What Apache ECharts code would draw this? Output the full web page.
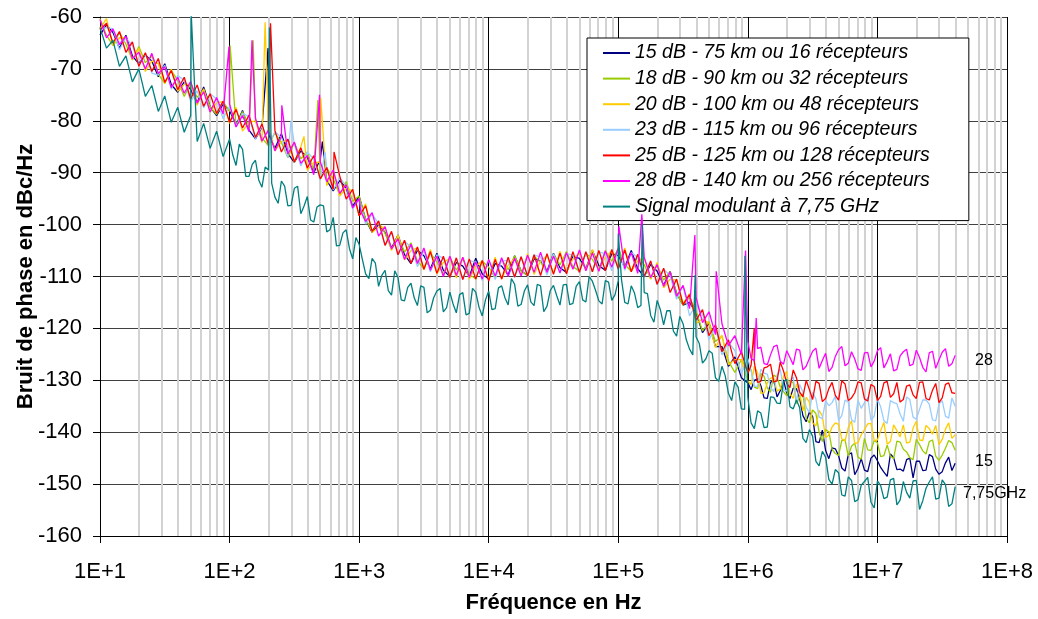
<!DOCTYPE html>
<html><head><meta charset="utf-8">
<script src="https://cdn.jsdelivr.net/npm/echarts@6/dist/echarts.min.js"></script>
<style>html,body{margin:0;padding:0;background:#fff}#c{width:1038px;height:619px}</style>
</head><body><div id="c"></div>
<script>
// Frequency grid (Hz), 20 points per decade
const freqs = [
1e1,1.122e1,1.259e1,1.413e1,1.585e1,1.778e1,1.995e1,2.239e1,2.512e1,2.818e1,3.162e1,3.548e1,3.981e1,4.467e1,5.012e1,5.623e1,6.31e1,7.079e1,7.943e1,8.913e1,
1e2,1.122e2,1.259e2,1.413e2,1.585e2,1.778e2,1.995e2,2.239e2,2.512e2,2.818e2,3.162e2,3.548e2,3.981e2,4.467e2,5.012e2,5.623e2,6.31e2,7.079e2,7.943e2,8.913e2,
1e3,1.122e3,1.259e3,1.413e3,1.585e3,1.778e3,1.995e3,2.239e3,2.512e3,2.818e3,3.162e3,3.548e3,3.981e3,4.467e3,5.012e3,5.623e3,6.31e3,7.079e3,7.943e3,8.913e3,
1e4,1.122e4,1.259e4,1.413e4,1.585e4,1.778e4,1.995e4,2.239e4,2.512e4,2.818e4,3.162e4,3.548e4,3.981e4,4.467e4,5.012e4,5.623e4,6.31e4,7.079e4,7.943e4,8.913e4,
1e5,1.122e5,1.259e5,1.413e5,1.585e5,1.778e5,1.995e5,2.239e5,2.512e5,2.818e5,3.162e5,3.548e5,3.981e5,4.467e5,5.012e5,5.623e5,6.31e5,7.079e5,7.943e5,8.913e5,
1e6,1.122e6,1.259e6,1.413e6,1.585e6,1.778e6,1.995e6,2.239e6,2.512e6,2.818e6,3.162e6,3.548e6,3.981e6,4.467e6,5.012e6,5.623e6,6.31e6,7.079e6,7.943e6,8.913e6,
1e7,1.122e7,1.259e7,1.413e7,1.585e7,1.778e7,1.995e7,2.239e7,2.512e7,2.818e7,3.162e7,3.548e7,3.981e7
];
// In-between frequencies (Hz) used for extra samples
const midFreqsTeal = [
1.059e2,1.189e2,1.334e2,1.496e2,1.679e2,1.884e2,2.113e2,2.371e2,2.661e2,2.985e2,3.35e2,3.758e2,4.217e2,4.732e2,5.309e2,5.957e2,6.683e2,7.499e2,8.414e2,9.441e2,
1.059e3,1.189e3,1.334e3,1.496e3,1.679e3,1.884e3,2.113e3,2.371e3,2.661e3,2.985e3,3.35e3,3.758e3,4.217e3,4.732e3,5.309e3,5.957e3,6.683e3,7.499e3,8.414e3,9.441e3,
1.059e4,1.189e4,1.334e4,1.496e4,1.679e4,1.884e4,2.113e4,2.371e4,2.661e4,2.985e4,3.35e4,3.758e4,4.217e4,4.732e4,5.309e4,5.957e4,6.683e4,7.499e4,8.414e4,9.441e4,
1.059e5,1.189e5,1.334e5,1.496e5,1.679e5,1.884e5,2.113e5,2.371e5,2.661e5,2.985e5,3.35e5,3.758e5,4.217e5,4.732e5,5.309e5,5.957e5,6.683e5,7.499e5,8.414e5,9.441e5
];
const midFreqsTail = [
1.059e6,1.189e6,1.334e6,1.496e6,1.679e6,1.884e6,2.113e6,2.371e6,2.661e6,2.985e6,3.35e6,3.758e6,4.217e6,4.732e6,5.309e6,5.957e6,6.683e6,7.499e6,8.414e6,9.441e6,
1.059e7,1.189e7,1.334e7,1.496e7,1.679e7,1.884e7,2.113e7,2.371e7,2.661e7,2.985e7,3.35e7,3.758e7
];

const names = [
'15 dB - 75 km ou 16 récepteurs',
'18 dB - 90 km ou 32 récepteurs',
'20 dB - 100 km ou 48 récepteurs',
'23 dB - 115 km ou 96 récepteurs',
'25 dB - 125 km ou 128 récepteurs',
'28 dB - 140 km ou 256 récepteurs',
'Signal modulant à 7,75 GHz'
];
const colors = ['#000080','#99CC00','#FFCC00','#99CCFF','#FF0000','#FF00FF','#008080'];

const s15 = [
-63.5,-61.5,-63,-66,-63.5,-67.5,-69,-67.3,-68.5,-71.5,-69,-73,-74.5,-72.5,-74,-76.5,-73.5,-77.3,-79,-76.8,
-78,-80.8,-78,-81.8,-83.5,-81.3,-82.5,-85.3,-82.5,-86.3,-88,-85.8,-87,-90,-87.5,-91.5,-93.5,-91.5,-93,-96.5,
-94.5,-99,-101.5,-100,-101.5,-104.5,-102,-105.8,-107.5,-105,-106,-108.5,-105.5,-108.8,-110,-107.3,-108,-110,-106.5,-109.5,
-110.5,-107.5,-108,-109.7,-106,-108.9,-109.8,-106.6,-107,-109,-105.5,-108.3,-109.2,-106.1,-106.5,-108.5,-105,-107.9,-108.8,-105.6,
-106,-108.2,-105,-108.5,-110,-107.7,-109,-111.7,-109,-113.2,-115.5,-115,-117,-120.8,-119,-123.5,-123.5,-127.3,-125.5,-129.5,
-130.5,-130,-131,-133.5,-130,-132,-132.5,-131.5,-133.5,-138,-137,-142,-143.5,-143,-144.5,-147.5,-144,-147,-147.3,-145,
-145.5,-147.7,-144.2,-147.2,-147.5,-145,-145.6,-147.4,-144.3,-147.1,-147.6,-144.8,-146
];
const s18 = [
-60.3,-63.5,-65.5,-63,-65.2,-68.3,-65.7,-68.8,-67.5,-71,-72.8,-70.3,-72.2,-75.3,-72.7,-75.5,-74,-77.3,-78.8,-76.3,
-78.2,-81.1,-78.2,-81.3,-80,-83.3,-84.8,-82.3,-84.2,-87.1,-84.2,-87.3,-86,-89.5,-91.3,-89,-91.2,-94.3,-91.7,-95.5,
-94.5,-99,-101.3,-99.5,-101.7,-104.8,-102.2,-105.3,-103.5,-107,-108.5,-105.5,-107.2,-109.6,-106.2,-108.8,-106.5,-109.5,-110.5,-107,
-108.2,-110.3,-106.7,-108.7,-106,-108.9,-109.8,-106.1,-107.2,-109.3,-105.7,-107.8,-105.2,-108.1,-109,-105.5,-106.7,-108.7,-105,-107.1,
-104.5,-107.7,-109,-106,-107.7,-110.5,-107.7,-110.7,-109,-113.2,-115.5,-114,-116.7,-120.5,-118.7,-122.5,-121.5,-126.3,-128.5,-126,
-128.2,-131.3,-128.7,-131.5,-129,-131.3,-133,-130.5,-133.2,-137.3,-135.7,-140,-139.5,-143.3,-144.5,-141.5,-142.7,-144.8,-141.2,-143.5,
-142,-144.5,-144.6,-141.7,-143.3,-144.9,-141.4,-143.6,-141.8,-144.6,-144.4,-141.6,-143.5
];
const s20 = [
-62.3,-60.3,-65.5,-64,-64,-68.2,-66,-70.5,-68.5,-69,-72.8,-70,-74.3,-73,-73,-77,-73.8,-78.3,-76.5,-76.3,
-80.5,-77.4,-82,-80.3,-80,-84.2,-81,-85.8,-84,-83.8,-88,-85,-89.5,-88,-88,-92.5,-89.5,-94.5,-93,-93.5,
-98.3,-96,-101.5,-100.5,-100.5,-105,-102,-106.8,-105,-104.5,-108.7,-104.8,-109.5,-107.3,-106.5,-110.3,-106.3,-110.5,-108,-107,
-110.5,-106.3,-110.5,-107.8,-106.5,-109.8,-105.6,-109.6,-107,-106,-109.3,-105.1,-109.2,-106.6,-105.5,-108.8,-104.8,-108.9,-106.3,-105.1,
-108.3,-104.5,-109,-107,-106.5,-110.5,-107.3,-112.2,-110.5,-110.7,-115.2,-113.3,-119,-118.2,-119,-123.7,-121.3,-127,-126,-126,
-130.2,-127.3,-132.5,-130.5,-129.5,-131.7,-128.3,-133.5,-132.5,-133.3,-138.2,-135.8,-141,-139,-138.5,-141.7,-137.8,-142,-139.5,-138.3,
-141.5,-138.1,-141.8,-139.7,-138.6,-141.9,-137.9,-141.6,-139.3,-138.7,-141.4,-138.2,-140.5
];
const s23 = [
-62.5,-62,-62.3,-66.3,-64,-65.5,-69.3,-67,-70.8,-71.2,-69.3,-73.9,-71.3,-72.2,-76.3,-74.2,-77.5,-74.8,-75.8,-79.6,
-77.2,-81.1,-78.6,-79.2,-83.5,-81,-84.7,-82.1,-83.2,-87.1,-84.6,-88.7,-86,-87.4,-91.4,-89.1,-93.3,-91,-92.5,-97,
-95.2,-99.9,-98,-99.8,-104,-101.6,-105.8,-103.2,-104.3,-108.1,-105,-109.1,-105.8,-106.5,-110.3,-106.5,-110.6,-106.9,-107.3,-110.8,
-106.8,-110.6,-106.9,-107,-110.2,-106.2,-109.9,-105.9,-106.2,-109.7,-105.6,-109.4,-105.6,-105.9,-109.3,-105.3,-109.1,-105.3,-105.6,-108.9,
-104.8,-108.8,-105.4,-106.3,-110.2,-107,-111.6,-108.6,-109.8,-114.4,-111.8,-117.6,-115.4,-117.3,-122.2,-119.8,-125.1,-122.7,-124.3,-128.7,
-125.8,-131.1,-127.9,-128.8,-132.2,-127.8,-132.1,-129.4,-130.8,-135.2,-132.3,-137.1,-133.9,-134.3,-137.7,-133.8,-137.6,-133.9,-134.3,-137.7,
-133.6,-137.8,-133.9,-134.5,-137.9,-133.7,-137.5,-133.8,-134.6,-137.8,-133.9,-137.3,-135
];
const s25 = [
-62.5,-61.2,-65,-62.8,-66.8,-64.8,-69.5,-66.9,-70.5,-68,-72.6,-70.3,-74,-71.6,-75.8,-73.1,-77.2,-74.8,-78.6,-76.2,
-80.3,-77.8,-81.4,-78.9,-83.2,-80.6,-84.6,-81.9,-86,-83.5,-87.9,-85.2,-89.1,-86.7,-91.2,-89,-93.2,-90.6,-95.1,-93.2,
-98.3,-96.4,-101.3,-99.3,-104,-101.3,-105.8,-103,-107.5,-104.3,-108.6,-105.2,-109.4,-106.1,-110.2,-106.4,-110.6,-106.6,-110.5,-106.9,
-110.9,-106.7,-110.5,-106.3,-110.1,-106.2,-109.9,-105.8,-109.8,-105.6,-109.6,-105.5,-109.5,-105.2,-109.2,-105.2,-109.1,-105,-108.9,-104.8,
-108.6,-104.9,-109.1,-105.7,-110,-107,-111.5,-108.4,-113.1,-110.5,-115.4,-113.5,-118.4,-116.4,-121.4,-119.3,-124.5,-122.2,-126.8,-124.5,
-128.7,-126.5,-130.2,-127.4,-130.3,-126.5,-130.6,-128,-132.3,-130,-133.7,-130.6,-133.5,-130.4,-133.8,-130.7,-133.4,-130.3,-133.6,-130.8,
-133.9,-130.5,-133.3,-130.4,-133.7,-130.9,-133.5,-130.3,-133.8,-130.6,-133.4,-130.5,-132.5
];
const s28 = [
-60.5,-64,-62.3,-65.3,-63.7,-68,-66.8,-70,-67,-70.9,-69.6,-73.6,-71.6,-74.7,-72.4,-76.6,-74.4,-78.3,-75.5,-78.7,
-76.8,-81.2,-79,-82.1,-79.5,-83.9,-81.8,-85.8,-83,-86.4,-84.1,-88.2,-86.7,-90.4,-87.9,-91.7,-89.5,-94,-92.3,-96.8,
-95,-99.4,-97.7,-102.2,-100.4,-104.7,-102.7,-106.7,-103.8,-107.5,-104.5,-108.8,-106.1,-110,-106.1,-109.8,-106.3,-110.2,-107.2,-110.5,
-106.7,-109.9,-106.4,-110,-106.5,-109.9,-105.9,-109.2,-105.3,-109.2,-106.1,-109.3,-105.4,-108.6,-104.9,-108.9,-105.5,-109,-105.1,-108.2,
-104.5,-108.5,-105.4,-109.4,-106.3,-110.2,-107.7,-111.9,-109.1,-113.8,-111.7,-116.2,-114,-118.9,-116.8,-121.2,-119.1,-123.3,-121.4,-125,
-122.5,-126.2,-123.6,-127,-123.5,-126.3,-124.3,-127,-124.2,-127.3,-124.4,-127.7,-124.8,-127.5,-124.1,-127.2,-124.5,-127.8,-124.7,-127.4,
-124.3,-127.6,-124.9,-127.9,-124.5,-127.2,-124.2,-127.5,-124.7,-127.7,-124.6,-127.3,-125.2
];
const sMod = [
-62,-66,-64.5,-69.5,-67.5,-72.5,-70,-75.3,-73.2,-78.2,-75.2,-80.3,-77.4,-82.2,-79,-84,-80.5,-85.3,-82,-86.9,
-83.5,-88.6,-85.5,-90.7,-87.6,-92.8,-89.5,-94.7,-91.6,-96.4,-93,-97.9,-94.6,-99.5,-96.2,-101.4,-98.6,-104,-101,-106.6,
-103.8,-109.5,-106.5,-111.9,-108.8,-113.6,-110.2,-114.7,-111.3,-115.6,-112.1,-116.5,-112.8,-116.8,-113,-117,-113.1,-117.1,-113,-117.6,
-112.8,-116.2,-111.8,-115.5,-111.5,-115.4,-111.6,-115.6,-111.8,-115.7,-111.7,-115.5,-111.5,-115.2,-111,-114.9,-110.9,-114.7,-110.8,-114.6,
-110.8,-115,-111.8,-116,-113.1,-117.5,-114.6,-119.3,-116.6,-121.5,-119.1,-124,-121.6,-126.7,-124.3,-129.5,-127.3,-132.5,-130.3,-135.5,
-133.3,-139.3,-136.3,-139,-133.3,-134.5,-129.8,-135.5,-135.3,-142,-140.8,-146.5,-144.8,-150,-147.8,-152.3,-149.3,-153,-149.5,-153.5,
-149.4,-152.8,-149.2,-154,-149.5,-152.7,-149.3,-153.2,-149.6,-152.9,-149.2,-154.3,-150.5
];

// Extra in-between samples (teal, 100 Hz - 1 MHz)
const sModMid = [
-86.6,-84.5,-90.7,-88.4,-91.4,-88.9,-92,-95.9,-92.6,-96.3,-92.6,-96.4,-99.1,-96.6,-96.4,-101,-104.1,-101.6,-104.6,-102.5,
-106.7,-110.4,-107.4,-109.8,-112.7,-108.9,-114.5,-112.1,-114.1,-111.8,-117,-114.1,-112.3,-116,-115.3,-113.5,-117.4,-112.3,-115.9,-114.5,
-116.4,-112.2,-114.1,-110.4,-115.7,-112.8,-114.9,-111.5,-116.8,-112.7,-113.7,-111.6,-115.4,-111.9,-114.5,-110,-112.7,-115.3,-111.1,-113.5,
-110.6,-115.3,-113.2,-115.6,-113.3,-118.8,-116.4,-116.6,-120.5,-117.7,-122.2,-125.1,-122.9,-125.9,-124.8,-130.2,-129.1,-133.9,-131.3,-135.6
];
// Extra in-between samples (1 MHz - 40 MHz)
const s15Tail = [-131.8,-129.7,-133.4,-130.4,-133.2,-129.9,-133.5,-131.6,-136.8,-136.1,-141.8,-139.6,-145.1,-143.2,-146.9,-144.3,-148.2,-145.1,-147.6,-144.4,-146.8,-148.5,-144.9,-147.1,-145.3,-148.8,-145.6,-147.3,-144.7,-148.1,-145.9,-147.4];
const s18Tail = [-127.9,-131.6,-129.2,-132.3,-129.4,-132.2,-130.1,-134.5,-132.6,-138.2,-136.4,-141.8,-139.9,-144.1,-141.6,-144.6,-142.1,-145.2,-143.4,-141.6,-144.7,-142.5,-145.1,-141.9,-143.8,-145.3,-142.4,-144.2,-141.5,-145.4,-143.1,-142];
const s20Tail = [-130.8,-128.5,-132.4,-129.6,-132.1,-129.2,-132.6,-130.7,-135.9,-134.2,-138.8,-136.9,-140.6,-138.2,-141.3,-139.1,-142.2,-140.5,-138.4,-141.6,-139.7,-142.3,-138.6,-140.9,-142.1,-139.2,-141.5,-138.7,-140.4,-142.4,-139.4,-141.2];
const s23Tail = [-128.2,-131.2,-128.6,-131.4,-129,-131.8,-130.2,-134.1,-132.3,-136.2,-133.6,-137.4,-134.9,-133.1,-136.8,-134.2,-138.1,-135.4,-133.3,-136.9,-135.1,-138.3,-134.3,-136.5,-133.2,-137.1,-135.6,-133.8,-137.6,-134.6,-136.9,-133.4];
const s25Tail = [-127.1,-130.4,-127.6,-126.9,-130.1,-128.2,-131.4,-129.5,-133.2,-131.8,-130.2,-134.1,-131.6,-132.9,-130.1,-133.9,-132.4,-130.5,-134,-131.2,-133.1,-130.2,-132.6,-134.2,-131.1,-132.8,-130.4,-133.5,-131.9,-134.3,-130.8,-132.4];
const s28Tail = [-125.8,-123.9,-126.8,-125.1,-123.2,-126.9,-125.6,-124,-128,-125.8,-123.8,-126.2,-128.3,-125.4,-123.5,-126.7,-125.9,-128.1,-124.6,-126.3,-123.7,-126.4,-128.2,-125.3,-124,-126.9,-125.6,-128.4,-124.4,-126.1,-123.9,-126.8];
const sModTail = [-138.2,-135.9,-139.1,-133.2,-134.4,-130.3,-135.1,-133.8,-141.2,-139.5,-145.6,-143.7,-149.1,-147.2,-152.1,-148.6,-153.4,-150.2,-148.7,-154.6,-150.3,-152.5,-148.9,-153.1,-151.6,-149.4,-154.9,-150.8,-148.6,-152.7,-150.1,-153.8];

// Narrow spurs [frequency Hz, peak dBc/Hz]
const spur15 = [[198,-66],[520,-84]];
const spur18 = [[101,-65.5],[152,-64.5],[480,-76]];
const spur20 = [[188,-61],[375,-83],[505,-75.5]];
const spur23 = [[298,-80],[545,-86]];
const spur25 = [[207,-61.2],[640,-86],[1.12e6,-120]];
const spur28 = [[99,-65.7],[149,-64.5],[253,-77],[495,-75],[1030,-97.5],[1.01e5,-100.3],[1.52e5,-98],[3.9e5,-102],[5.7e5,-109],[9.6e5,-105],[1.16e6,-118]];
const spurMod = [[50.5,-59],[203,-62],[1.0e5,-101.7],[1.53e5,-100],[3.92e5,-109.7],[9.5e5,-106]];

const xTickLabels = ['1E+1','1E+2','1E+3','1E+4','1E+5','1E+6','1E+7','1E+8'];
const minorMantissas = [2,3,4,5,6,7,8,9];
const decades = [1e1,1e2,1e3,1e4,1e5,1e6,1e7];
const endLabels = ['28','15','7,75GHz'];

const allVals = [s15,s18,s20,s23,s25,s28,sMod];
const allTails = [s15Tail,s18Tail,s20Tail,s23Tail,s25Tail,s28Tail,sModTail];
const allSpurs = [spur15,spur18,spur20,spur23,spur25,spur28,spurMod];

function build(k){
  const pts = freqs.map((f,i)=>[f, allVals[k][i]]);
  midFreqsTail.forEach((f,i)=>pts.push([f, allTails[k][i]]));
  if (k === 6) midFreqsTeal.forEach((f,i)=>pts.push([f, sModMid[i]]));
  allSpurs[k].forEach(s=>pts.push([s[0], s[1]]));
  pts.sort((a,b)=>a[0]-b[0]);
  return pts;
}
const minorLines = [];
decades.forEach(d=>minorMantissas.forEach(m=>minorLines.push({xAxis: m*d})));

const FONT = 'Liberation Sans, Arial, sans-serif';
const series = [{
  type:'line', name:'_grid', data:[], silent:true, z:1,
  markLine:{silent:true, symbol:['none','none'], z:1, label:{show:false},
    lineStyle:{color:'#d2d2d2', width:2, type:'solid'}, emphasis:{disabled:true}, data: minorLines}
}];
allVals.forEach((v,k)=>{
  series.push({
    type:'line', name:names[k], data: build(k),
    showSymbol:false, symbol:'none', z:2+k,
    lineStyle:{color:colors[k], width:1.3}, itemStyle:{color:colors[k]},
    sampling: null, animation:false
  });
});

const annotStyle = {fontFamily:FONT, fontSize:16, fontWeight:'normal', color:'#000'};
const chart = echarts.init(document.getElementById('c'), null, {renderer:'canvas'});
chart.setOption({
  animation:false,
  backgroundColor:'#fff',
  title:[
    {text:endLabels[0], left:975, top:353, padding:0, textStyle:annotStyle},
    {text:endLabels[1], left:975, top:454, padding:0, textStyle:annotStyle},
    {text:endLabels[2], left:963, top:486, padding:0, textStyle:annotStyle}
  ],
  grid:{left:100, right:31, top:17, bottom:79, containLabel:false},
  xAxis:{
    type:'log', logBase:10, min:10, max:1e8,
    name:'Fréquence en Hz', nameLocation:'middle', nameGap:56, nameMoveOverlap:false,
    nameTextStyle:{fontFamily:FONT, fontSize:22, fontWeight:'bold', color:'#000'},
    axisLine:{show:true, lineStyle:{color:'#000', width:1}},
    axisTick:{show:true, length:7, lineStyle:{color:'#000'}},
    axisLabel:{margin:25, fontFamily:FONT, fontSize:22, color:'#000',
      showMinLabel:true, showMaxLabel:true,
      formatter: v => xTickLabels[Math.round(Math.log10(v))-1]},
    splitLine:{show:true, lineStyle:{color:'#000', width:1}},
    minorTick:{show:false}, minorSplitLine:{show:false}
  },
  yAxis:{
    type:'value', min:-160, max:-60, interval:10,
    name:'Bruit de phase en dBc/Hz', nameLocation:'middle', nameGap:63, nameMoveOverlap:false,
    nameTextStyle:{fontFamily:FONT, fontSize:22, fontWeight:'bold', color:'#000'},
    axisLine:{show:true, lineStyle:{color:'#000', width:1}},
    axisTick:{show:true, length:7, lineStyle:{color:'#000'}},
    axisLabel:{margin:18, fontFamily:FONT, fontSize:22, color:'#000'},
    splitLine:{show:true, lineStyle:{color:'#404040', width:1}}
  },
  legend:{
    data: names, orient:'vertical', left:587, top:38,
    padding:[5,39,4,16], itemGap:5.6, itemWidth:27, itemHeight:2, icon:'rect',
    backgroundColor:'#fff', borderColor:'#000', borderWidth:1, borderRadius:0,
    textStyle:{fontFamily:FONT, fontSize:19.5, fontStyle:'italic', color:'#000', lineHeight:20},
    selectedMode:false
  },
  series: series
});
</script>
</body></html>
